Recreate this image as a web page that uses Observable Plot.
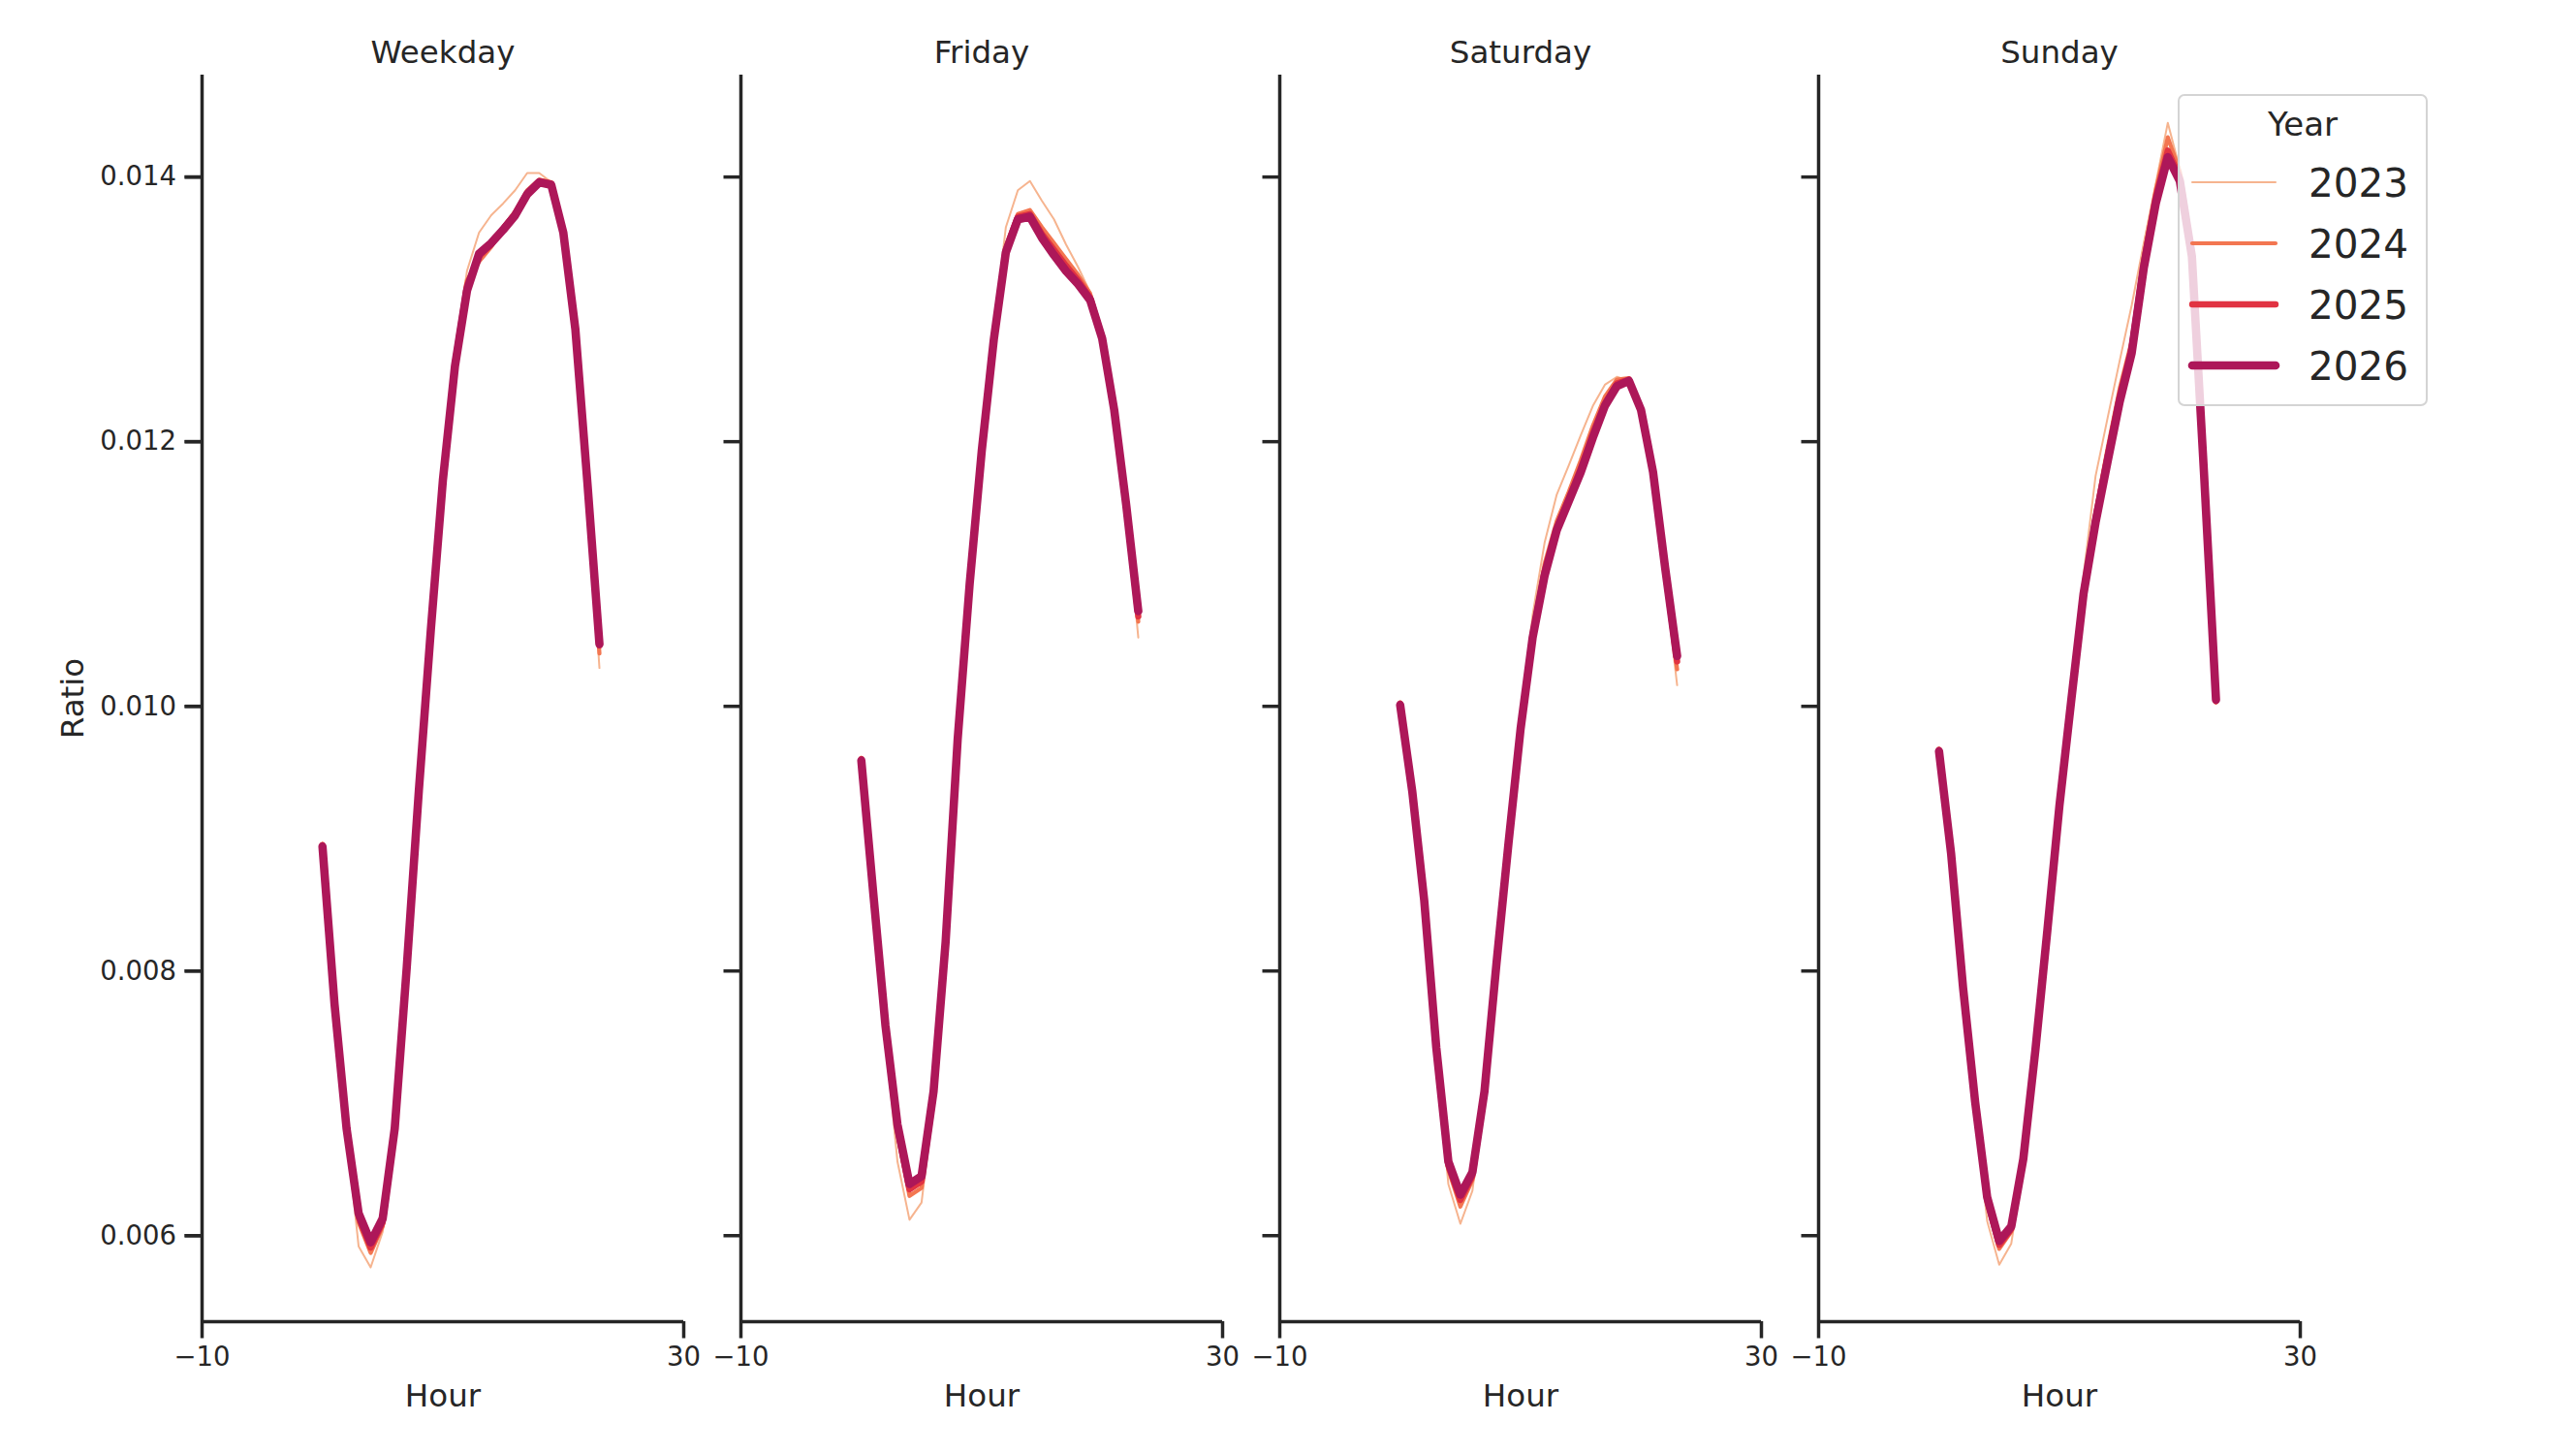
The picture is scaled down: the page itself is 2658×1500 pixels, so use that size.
<!DOCTYPE html>
<html>
<head>
<meta charset="utf-8">
<script src="https://cdn.jsdelivr.net/npm/d3@7"></script>
<script src="https://cdn.jsdelivr.net/npm/@observablehq/plot@0.6"></script>
<style>
  body { margin: 0; background: #ffffff; }
  #wrap { position: relative; width: 2658px; height: 1500px; font-family: "DejaVu Sans", sans-serif; color: #262626; background: #ffffff; }
  #legend { position: absolute; left: 2247px; top: 97px; width: 258px; height: 322px; box-sizing: border-box;
            border: 2.5px solid #d4d4d4; border-radius: 7px; background: rgba(255,255,255,0.8); }
  #legend svg { position: absolute; left: -2.5px; top: -2.5px; overflow: visible; }
</style>
</head>
<body>
<div id="wrap"></div>
<script>
// ---------- data ----------
const panels = ["Weekday", "Friday", "Saturday", "Sunday"];
const years = [2023, 2024, 2025, 2026];
const hours = [0, 1, 2, 3, 4, 5, 6, 7, 8, 9, 10, 11, 12, 13, 14, 15, 16, 17, 18, 19, 20, 21, 22, 23];
const xTicks = [-10, 30];
const yTicks = [0.006, 0.008, 0.010, 0.012, 0.014];

const weekday2023 = [0.00897, 0.00776, 0.00678, 0.00592, 0.00576, 0.00603, 0.00678, 0.00800, 0.00938, 0.01060, 0.01174, 0.01264, 0.01329, 0.01358, 0.01371, 0.01380, 0.01390, 0.01403, 0.01403, 0.01396, 0.01358, 0.01285, 0.01166, 0.01029];
const weekday2024 = [0.00896, 0.00775, 0.00679, 0.00610, 0.00587, 0.00607, 0.00679, 0.00801, 0.00937, 0.01059, 0.01173, 0.01262, 0.01322, 0.01336, 0.01347, 0.01362, 0.01374, 0.01390, 0.01398, 0.01396, 0.01360, 0.01286, 0.01168, 0.01040];
const weekday2025 = [0.00895, 0.00774, 0.00680, 0.00614, 0.00591, 0.00610, 0.00680, 0.00802, 0.00936, 0.01058, 0.01172, 0.01259, 0.01318, 0.01340, 0.01349, 0.01361, 0.01372, 0.01388, 0.01397, 0.01395, 0.01359, 0.01286, 0.01169, 0.01046];
const weekday2026 = [0.00894, 0.00775, 0.00681, 0.00617, 0.00595, 0.00613, 0.00681, 0.00803, 0.00936, 0.01058, 0.01171, 0.01257, 0.01314, 0.01342, 0.01350, 0.01360, 0.01371, 0.01387, 0.01396, 0.01394, 0.01358, 0.01285, 0.01169, 0.01047];

const friday2023 = [0.00962, 0.00855, 0.00750, 0.00656, 0.00612, 0.00625, 0.00700, 0.00818, 0.00977, 0.01097, 0.01197, 0.01284, 0.01362, 0.01390, 0.01397, 0.01382, 0.01368, 0.01349, 0.01332, 0.01313, 0.01282, 0.01225, 0.01148, 0.01052];
const friday2024 = [0.00961, 0.00856, 0.00755, 0.00677, 0.00630, 0.00636, 0.00705, 0.00820, 0.00976, 0.01095, 0.01195, 0.01280, 0.01348, 0.01372, 0.01375, 0.01362, 0.01350, 0.01338, 0.01326, 0.01312, 0.01280, 0.01225, 0.01150, 0.01064];
const friday2025 = [0.00960, 0.00857, 0.00757, 0.00681, 0.00635, 0.00641, 0.00707, 0.00821, 0.00975, 0.01094, 0.01194, 0.01278, 0.01345, 0.01370, 0.01372, 0.01357, 0.01345, 0.01333, 0.01322, 0.01309, 0.01279, 0.01224, 0.01151, 0.01068];
const friday2026 = [0.00959, 0.00858, 0.00759, 0.00684, 0.00639, 0.00645, 0.00709, 0.00822, 0.00975, 0.01093, 0.01193, 0.01277, 0.01343, 0.01368, 0.01370, 0.01354, 0.01341, 0.01329, 0.01319, 0.01307, 0.01278, 0.01224, 0.01152, 0.01072];

const saturday2023 = [0.01004, 0.00933, 0.00850, 0.00735, 0.00639, 0.00609, 0.00634, 0.00705, 0.00808, 0.00901, 0.00990, 0.01069, 0.01124, 0.01160, 0.01182, 0.01205, 0.01227, 0.01243, 0.01249, 0.01246, 0.01228, 0.01172, 0.01095, 0.01016];
const saturday2024 = [0.01003, 0.00934, 0.00851, 0.00738, 0.00650, 0.00622, 0.00642, 0.00707, 0.00807, 0.00899, 0.00986, 0.01058, 0.01108, 0.01140, 0.01162, 0.01186, 0.01212, 0.01234, 0.01247, 0.01248, 0.01222, 0.01174, 0.01100, 0.01028];
const saturday2025 = [0.01002, 0.00935, 0.00852, 0.00740, 0.00653, 0.00627, 0.00645, 0.00708, 0.00806, 0.00898, 0.00984, 0.01054, 0.01102, 0.01135, 0.01157, 0.01180, 0.01206, 0.01229, 0.01244, 0.01247, 0.01223, 0.01176, 0.01103, 0.01034];
const saturday2026 = [0.01001, 0.00936, 0.00853, 0.00742, 0.00656, 0.00631, 0.00648, 0.00709, 0.00806, 0.00897, 0.00983, 0.01052, 0.01099, 0.01133, 0.01155, 0.01177, 0.01203, 0.01227, 0.01242, 0.01246, 0.01224, 0.01177, 0.01105, 0.01038];

const sunday2023 = [0.00969, 0.00886, 0.00783, 0.00695, 0.00611, 0.00578, 0.00594, 0.00654, 0.00742, 0.00835, 0.00931, 0.01015, 0.01099, 0.01174, 0.01218, 0.01261, 0.01303, 0.01350, 0.01395, 0.01441, 0.01406, 0.01342, 0.01176, 0.01002];
const sunday2024 = [0.00968, 0.00887, 0.00785, 0.00698, 0.00624, 0.00590, 0.00603, 0.00656, 0.00741, 0.00833, 0.00928, 0.01010, 0.01090, 0.01147, 0.01195, 0.01240, 0.01276, 0.01340, 0.01390, 0.01430, 0.01404, 0.01342, 0.01177, 0.01003];
const sunday2025 = [0.00967, 0.00888, 0.00786, 0.00700, 0.00627, 0.00593, 0.00605, 0.00657, 0.00740, 0.00832, 0.00926, 0.01008, 0.01087, 0.01142, 0.01189, 0.01234, 0.01271, 0.01335, 0.01385, 0.01420, 0.01400, 0.01341, 0.01177, 0.01004];
const sunday2026 = [0.00966, 0.00889, 0.00787, 0.00701, 0.00629, 0.00596, 0.00607, 0.00658, 0.00740, 0.00831, 0.00925, 0.01006, 0.01085, 0.01139, 0.01185, 0.01230, 0.01267, 0.01331, 0.01380, 0.01415, 0.01397, 0.01340, 0.01177, 0.01005];

// ---------- styles ----------
const ink = "#262626";
const yearColors = ["#f6b48f", "#f37651", "#e13342", "#ad1759"];
const yearWidths = [2, 4.2, 6.4, 8.6];
const xDomain = [-10, 30];
const yDomain = [0.00535, 0.01477];

// ---------- table ----------
const seriesByPanel = {
  Weekday: [weekday2023, weekday2024, weekday2025, weekday2026],
  Friday: [friday2023, friday2024, friday2025, friday2026],
  Saturday: [saturday2023, saturday2024, saturday2025, saturday2026],
  Sunday: [sunday2023, sunday2024, sunday2025, sunday2026]
};
const rows = panels.flatMap(p => years.flatMap((yr, i) =>
  hours.map((h, j) => ({panel: p, year: yr, hour: h, ratio: seriesByPanel[p][i][j]}))));

const fmtX = d => d < 0 ? "\u2212" + Math.abs(d) : String(d);

const lineMarks = years.map((yr, i) =>
  Plot.line(rows.filter(r => r.year === yr), {
    x: "hour", y: "ratio", fx: "panel",
    stroke: yearColors[i], strokeWidth: yearWidths[i],
    strokeLinecap: "round", strokeLinejoin: "round"
  }));

const chart = Plot.plot({
  width: 2658,
  height: 1500,
  marginTop: 77,
  marginBottom: 137,
  marginLeft: 207,
  marginRight: 284.5,
  style: {fontFamily: "DejaVu Sans", background: "white", color: ink, overflow: "visible"},
  fx: {domain: panels, paddingInner: 0.107, paddingOuter: 0, axis: null, label: null},
  x: {domain: xDomain, axis: null},
  y: {domain: yDomain, axis: null},
  marks: [
    Plot.ruleX([xDomain[0]], {stroke: ink, strokeWidth: 3.5}),
    Plot.ruleY([yDomain[0]], {stroke: ink, strokeWidth: 3.5}),
    Plot.axisY({ticks: yTicks, tickFormat: d3.format(".3f"), tickSize: 17.5, tickPadding: 9,
                fontSize: 27.5, strokeWidth: 3.5, stroke: ink, fill: ink, label: null}),
    Plot.axisY({ticks: yTicks, tickSize: 17.5, strokeWidth: 3.5, stroke: ink, fill: "none",
                facetAnchor: null, label: null}),
    Plot.axisX({ticks: xTicks, tickFormat: fmtX, tickSize: 17.5, tickPadding: 8,
                fontSize: 27.5, strokeWidth: 3.5, stroke: ink, fill: ink, label: null}),
    Plot.text(panels, {fx: d => d, text: d => d, frameAnchor: "top", lineAnchor: "middle",
                       dy: -23, fontSize: 32.5, fill: ink}),
    Plot.text(["Hour"], {text: d => d, frameAnchor: "bottom", lineAnchor: "middle", dy: 77.5,
                         fontSize: 32.5, fill: ink}),
    Plot.text(["Ratio"], {text: d => d, frameAnchor: "left", textAnchor: "middle", lineAnchor: "middle",
                          dx: -132.5, rotate: -90, fontSize: 32.5, fill: ink, facetAnchor: "left"}),
    ...lineMarks
  ]
});

const wrap = document.getElementById("wrap");
wrap.appendChild(chart);

// ---------- legend ----------
const legend = d3.select(wrap).append("div").attr("id", "legend");
const lsvg = legend.append("svg").attr("width", 258).attr("height", 322);
lsvg.append("text").attr("x", 129).attr("y", 43).attr("text-anchor", "middle")
  .attr("font-family", "DejaVu Sans").attr("font-size", 34).attr("fill", ink).text("Year");
years.forEach((yr, i) => {
  const cy = 91 + i * 63;
  lsvg.append("line").attr("x1", 15).attr("x2", 101).attr("y1", cy).attr("y2", cy)
    .attr("stroke", yearColors[i]).attr("stroke-width", yearWidths[i]).attr("stroke-linecap", "round");
  lsvg.append("text").attr("x", 135).attr("y", cy + 14.5)
    .attr("font-family", "DejaVu Sans").attr("font-size", 40.5).attr("fill", ink).text(String(yr));
});
</script>
</body>
</html>
